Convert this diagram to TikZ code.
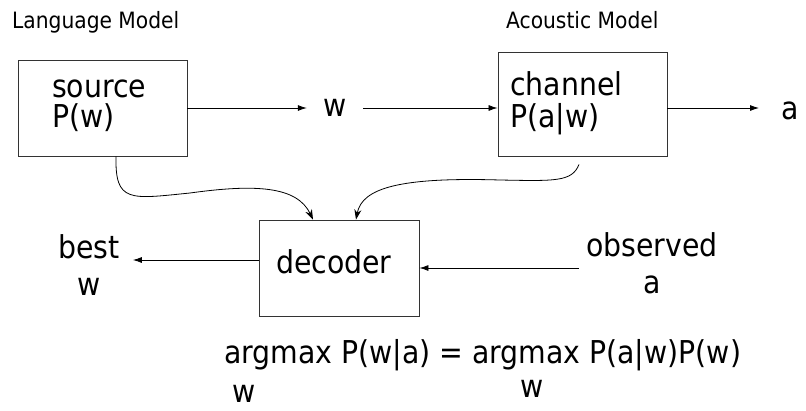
\documentclass[tikz,border=0pt]{standalone}
\usepackage{fontspec}
\setmainfont{DejaVu Sans Condensed}
\usetikzlibrary{arrows.meta}
\begin{document}
\begin{tikzpicture}[x=1pt,y=-1pt,
  box/.style={draw=black!80,line width=0.9pt,minimum width=#1,inner sep=0pt},
  big/.style={font=\fontsize{31.5}{37}\selectfont,inner sep=0pt},
  small/.style={font=\fontsize{22.5}{26}\selectfont,inner sep=0pt,anchor=base west},
  arr/.style={-{Latex[length=9pt,width=6pt]},line width=0.8pt},
  crv/.style={-{Stealth[length=10pt,width=7pt]},line width=0.8pt}]
\useasboundingbox (0,0) rectangle (806,410);
% boxes
\node[box=169pt,minimum height=96pt] (source) at (102.5,108) {};
\node[box=169pt,minimum height=104pt] (channel) at (582.5,104) {};
\node[box=160pt,minimum height=96pt] (decoder) at (339,268) {};
% box texts
\node[big,anchor=base west] (srcT) at (52,97) {source};
\node[big,anchor=base west] (srcP) at (52,127) {P(w)};
\node[big,anchor=base west] (chT) at (510,95) {channel};
\node[big,anchor=base west] (chP) at (510,127) {P(a|w)};
\node[big,anchor=base west] (decT) at (276,273) {decoder};
% titles
\node[small] (lm) at (12,28) {Language Model};
\node[small] (am) at (506,28) {Acoustic Model};
% free labels
\node[big,minimum width=56pt,minimum height=20pt] (w) at (335,108) {w};
\node[big,anchor=west,minimum height=20pt] (a) at (781,111) {a};
\node[big,align=center,inner xsep=13pt] (best) at (89,265) {best\\w};
\node[big,align=center,inner xsep=7pt] (obs) at (652,263) {observed\\a};
% connectors
\draw[arr] (source.east |- w.center) -- (w.west);
\draw[arr] (w.east) -- (w.east -| channel.west);
\draw[arr] (channel.east |- w.center) -- ([xshift=-22pt]w.center -| a.west);
\draw[arr] ([yshift=8pt]decoder.west) -- ([yshift=8pt]decoder.west -| best.east);
\draw[arr] (obs.west |- decoder.east) -- (decoder.east);
\draw[crv] ([xshift=13.5pt]source.south) .. controls (115,203) and (130,199) .. (190,193)
  .. controls (255,184) and (297,186) .. ([xshift=-26pt]decoder.north);
\draw[crv] ([xshift=-3.5pt,yshift=-8pt]channel.south) .. controls (572,182) and (555,181) .. (500,180)
  .. controls (400,177) and (362,188) .. ([xshift=17pt]decoder.north);
% equation
\node[big,anchor=base west] (eq) at (224,363) {argmax P(w|a) = argmax P(a|w)P(w)};
\node[big,anchor=base] (w1) at (244,402) {w};
\node[big,anchor=base] (w2) at (532,397) {w};
\end{tikzpicture}
\end{document}
